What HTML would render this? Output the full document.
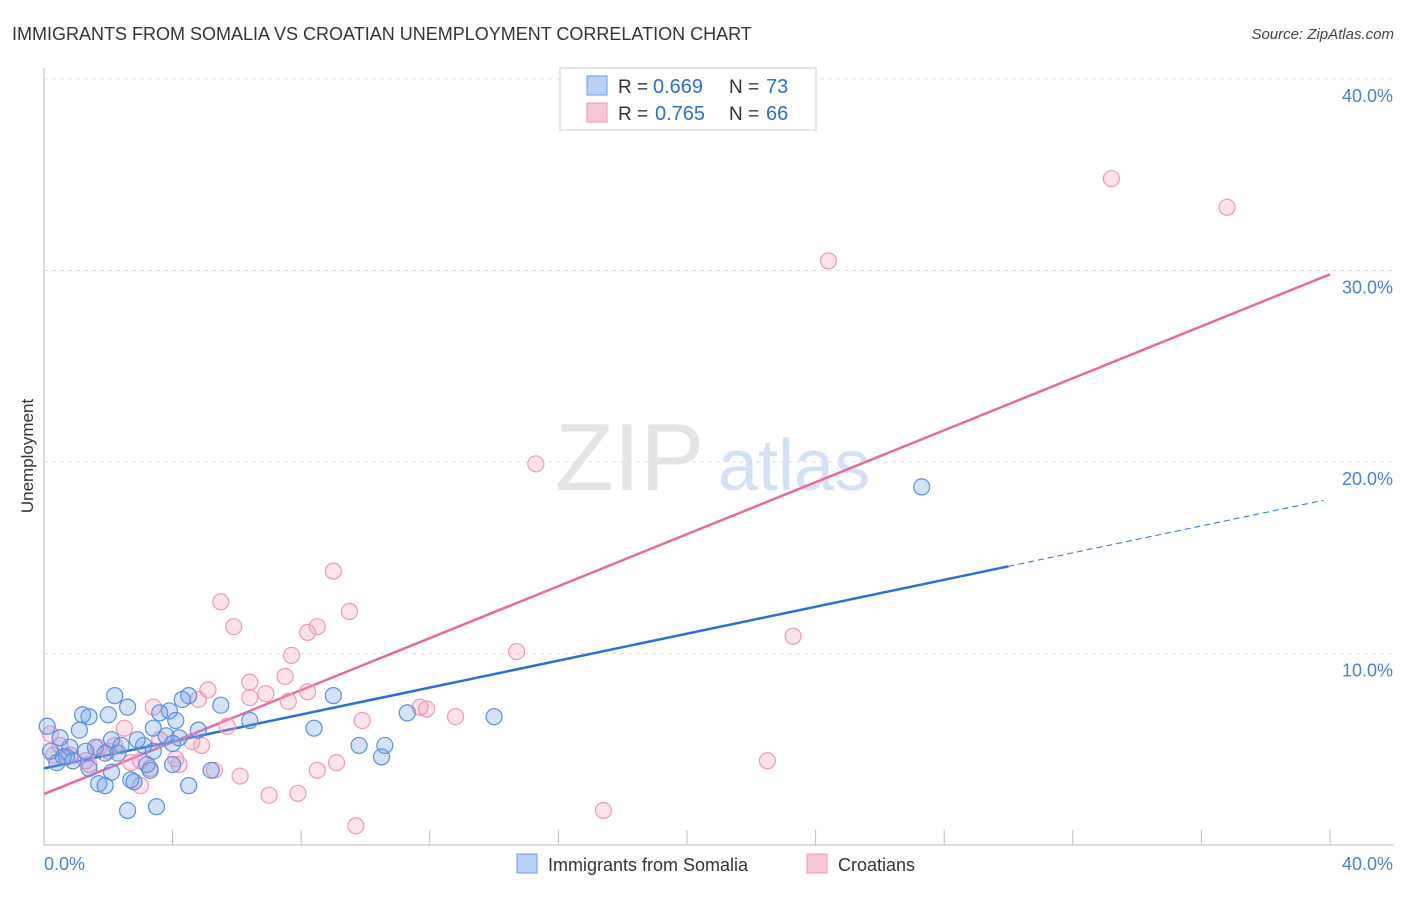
<!DOCTYPE html>
<html><head><meta charset="utf-8"><style>
body{margin:0;background:#fff;font-family:"Liberation Sans",sans-serif;}
svg text{font-family:"Liberation Sans",sans-serif;}
</style></head><body>
<svg id="chart" width="1406" height="892" xmlns="http://www.w3.org/2000/svg">
<text x="12" y="40" font-size="18" fill="#333">IMMIGRANTS FROM SOMALIA VS CROATIAN UNEMPLOYMENT CORRELATION CHART</text>
<text x="1394" y="39" font-size="15" fill="#444" text-anchor="end" font-style="italic">Source: ZipAtlas.com</text>
<text transform="translate(33,456) rotate(-90)" font-size="17" fill="#333" text-anchor="middle">Unemployment</text>
<g>
<text x="555" y="490" font-size="96" fill="#ddd" font-family="Liberation Serif" opacity="0.8">ZIP</text>
<text x="718" y="490" font-size="72" fill="#c9daf3" opacity="0.8">atlas</text>
</g>
<g id="grid"></g><g id="axes"></g><g id="lines"></g><g id="points"></g>
<g>
<rect x="560" y="68" width="256" height="62" fill="#fff" stroke="#ccc"/>
<rect x="587" y="76" width="20" height="19" fill="#b8d0f5" stroke="#6a9be0"/>
<text x="618" y="93" font-size="19" fill="#333">R =</text>
<text x="653" y="93" font-size="20" fill="#2b6fd6">0.669</text>
<text x="729" y="93" font-size="19" fill="#333">N =</text>
<text x="766" y="93" font-size="20" fill="#2b6fd6">73</text>
<rect x="587" y="103" width="20" height="19" fill="#f8c6d6" stroke="#eb9ab5"/>
<text x="618" y="120" font-size="19" fill="#333">R =</text>
<text x="655" y="120" font-size="20" fill="#2b6fd6">0.765</text>
<text x="729" y="120" font-size="19" fill="#333">N =</text>
<text x="766" y="120" font-size="20" fill="#2b6fd6">66</text>
</g>
<g>
<rect x="517" y="854" width="20" height="19" fill="#b8d0f5" stroke="#6a9be0"/>
<text x="548" y="871" font-size="18" fill="#333">Immigrants from Somalia</text>
<rect x="807" y="854" width="20" height="19" fill="#f8c6d6" stroke="#eb9ab5"/>
<text x="838" y="871" font-size="18" fill="#333">Croatians</text>
</g>
</svg>
<script>
const yTicks=[10,20,30,40];
const yTickLabels=["10.0%","20.0%","30.0%","40.0%"];
const xTickVals=[0,4,8,12,16,20,24,28,32,36,40];
const blueX=[27.3,9.0,11.3,14.0,8.4,9.8,10.6,10.5,2.2,4.5,4.3,5.5,2.6,3.9,1.2,1.4,2.0,3.6,4.1,6.4,0.1,3.4,1.1,4.8,3.8,2.1,2.9,0.5,4.2,2.4,3.1,4.0,1.6,0.8,3.4,0.2,0.6,1.3,1.9,0.4,0.9,2.3,3.2,4.0,1.4,3.3,2.1,5.2,2.7,1.7,1.9,2.8,4.5,2.6,3.5,0.7];
const blueY=[18.7,7.8,6.9,6.7,6.1,5.2,5.2,4.6,7.8,7.8,7.6,7.3,7.2,7.0,6.8,6.7,6.8,6.9,6.5,6.5,6.2,6.1,6.0,6.0,5.7,5.5,5.5,5.6,5.6,5.2,5.2,5.3,5.1,5.1,4.9,4.9,4.6,4.9,4.8,4.3,4.4,4.8,4.2,4.2,4.0,3.9,3.8,3.9,3.4,3.2,3.1,3.3,3.1,1.8,2.0,4.6];
const pinkX=[33.2,36.8,24.4,15.3,9.0,5.5,9.5,5.9,8.5,8.2,23.3,14.7,7.7,7.5,6.4,5.1,6.9,8.2,6.4,4.8,7.6,3.4,11.7,11.9,12.8,9.9,5.7,2.5,3.6,4.6,4.9,0.2,0.5,1.7,2.0,0.8,1.3,3.0,4.1,4.2,22.5,9.1,3.3,5.3,8.5,6.1,3.0,7.0,7.9,17.4,9.7,1.4,0.3,2.2,2.7];
const pinkY=[34.8,33.3,30.5,19.9,14.3,12.7,12.2,11.4,11.4,11.1,10.9,10.1,9.9,8.8,8.5,8.1,7.9,8.0,7.7,7.6,7.5,7.2,7.2,7.1,6.7,6.5,6.2,6.1,5.5,5.4,5.2,5.8,5.2,5.1,4.9,4.7,4.4,4.4,4.5,4.2,4.4,4.3,4.0,3.9,3.9,3.6,3.1,2.6,2.7,1.8,1.0,4.2,4.7,5.2,4.3];
const blueLine=[4.0,18.07]; const blueSolidEnd=30.0; const blueDashEnd=39.8;
const pinkLine=[2.66,29.8];
const X=v=>44+v*32.15, Y=v=>845-v*19.15;
const NS="http://www.w3.org/2000/svg";
function mk(t,a,p){const e=document.createElementNS(NS,t);for(const k in a)e.setAttribute(k,a[k]);p.appendChild(e);return e;}
const grid=document.getElementById('grid'),axes=document.getElementById('axes');
yTicks.forEach((t,i)=>{
 const g=mk('line',{x1:44,x2:1394,y1:Y(t),y2:Y(t),stroke:'#ddd','stroke-dasharray':'4,4'},grid);
 
 
 const l=mk('text',{x:1393,y:Y(t)+23,'font-size':18,fill:'#4a80d8','text-anchor':'end'},axes);
 l.textContent=yTickLabels[i];
 
 
});
const ax=mk('line',{x1:44,x2:1394,y1:845,y2:845,stroke:'#bbb'},axes);


const ay=mk('line',{x1:44,x2:44,y1:68,y2:845,stroke:'#bbb'},axes);


xTickVals.forEach(t=>{const e=mk('line',{x1:X(t),x2:X(t),y1:830,y2:845,stroke:'#bbb'},axes);
 
 });
[["0.0%",X(0),'start'],["40.0%",X(40)+63,'end']].forEach(a=>{const e=mk('text',{x:a[1],y:870,'font-size':18,fill:'#4a80d8','text-anchor':a[2]},axes);e.textContent=a[0];
 
 });
const lines=document.getElementById('lines');
const by=x=>blueLine[0]+(blueLine[1]-blueLine[0])*x/40, py=x=>pinkLine[0]+(pinkLine[1]-pinkLine[0])*x/40;
const b1=mk('line',{x1:X(0),y1:Y(by(0)),x2:X(blueSolidEnd),y2:Y(by(blueSolidEnd)),stroke:'#2b6fd6','stroke-width':2.5},lines);


const b2=mk('line',{x1:X(blueSolidEnd),y1:Y(by(blueSolidEnd)),x2:X(blueDashEnd),y2:Y(by(blueDashEnd)),stroke:'#2b6fd6','stroke-width':1,'stroke-dasharray':'6,4'},lines);


const p1=mk('line',{x1:X(0),y1:Y(py(0)),x2:X(40),y2:Y(py(40)),stroke:'#e8699a','stroke-width':2.5},lines);


const pts=document.getElementById('points');
pinkX.forEach((x,i)=>{const c=mk('circle',{cx:X(x),cy:Y(pinkY[i]),r:8,fill:'rgba(245,160,190,0.3)',stroke:'#eb9ab5','stroke-width':1.2},pts);
 
 });
blueX.forEach((x,i)=>{const c=mk('circle',{cx:X(x),cy:Y(blueY[i]),r:8,fill:'rgba(110,160,235,0.3)',stroke:'#5b8fdc','stroke-width':1.2},pts);
 
 });
</script>
</body></html>
